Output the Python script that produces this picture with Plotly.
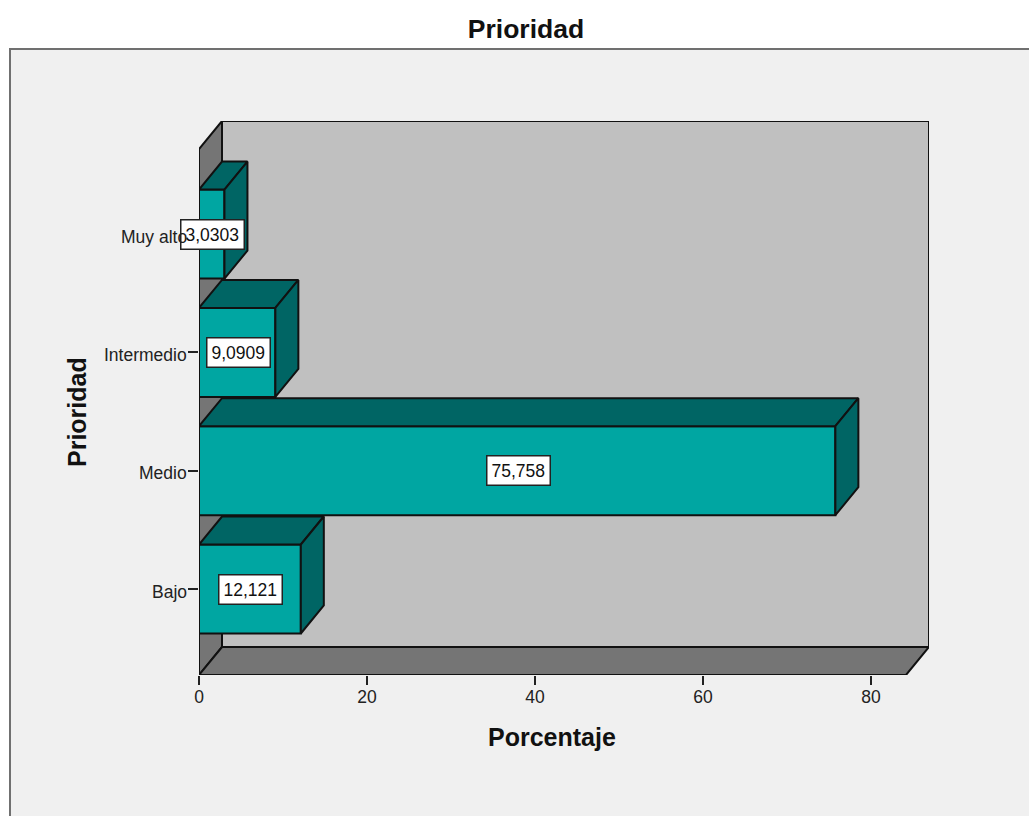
import plotly.graph_objects as go

categories = ["Bajo", "Medio", "Intermedio", "Muy alto"]
values = [12.121, 75.758, 9.0909, 3.0303]
value_labels = ["12,121", "75,758", "9,0909", "3,0303"]
x_ticks = [0, 20, 40, 60, 80]

FONT = "Liberation Sans, Arial, sans-serif"
FRONT, DARK = "#00a6a2", "#006564"
WALL, SIDE = "#c0c0c0", "#757575"
PANEL = "#f0f0f0"
EDGE = "#111111"
LW = 2

# pixel frame of the plot area
L, R, T, B = 199, 929, 121, 675
W, H = 1029, 816
PX_X = 8.4        # pixels per percent
PX_Y = 118.3      # pixels per category step
X_MAX = (R - L) / PX_X
Y_MIN = -(B - 589) / PX_Y
Y_MAX = (589 - T) / PX_Y
DX = 23 / PX_X    # depth of the 3D effect in data units
DY = 28 / PX_Y
BAR = 89 / PX_Y   # bar thickness

positions = list(range(len(categories)))


def path(pts):
    return "M" + " L".join(f"{x},{y}" for x, y in pts) + " Z"


def wall(pts, fill):
    return dict(type="path", xref="x", yref="y", layer="below", path=path(pts),
                fillcolor=fill, line=dict(color=EDGE, width=LW))


fig = go.Figure()

for v, p in zip(values, positions):
    lo, hi = p - BAR / 2, p + BAR / 2
    # top face
    fig.add_trace(go.Scatter(
        x=[0, DX, v + DX, v, 0], y=[hi, hi + DY, hi + DY, hi, hi],
        mode="lines", fill="toself", fillcolor=DARK,
        line=dict(color=EDGE, width=LW), hoverinfo="skip", showlegend=False))
    # side face
    fig.add_trace(go.Scatter(
        x=[v, v + DX, v + DX, v, v], y=[lo, lo + DY, hi + DY, hi, lo],
        mode="lines", fill="toself", fillcolor=DARK,
        line=dict(color=EDGE, width=LW), hoverinfo="skip", showlegend=False))

fig.add_trace(go.Bar(
    x=values, y=positions, orientation="h", width=BAR,
    marker=dict(color=FRONT, line=dict(color=EDGE, width=LW)),
    showlegend=False))

# value boxes first, category labels after: the labels sit on top of the boxes
annotations = [
    dict(x=v / 2, y=p, xref="x", yref="y", text=t, showarrow=False, xshift=1,
         bgcolor="white", bordercolor="#222222", borderwidth=1.5, borderpad=4,
         font=dict(family=FONT, size=17.5, color="#111111"))
    for v, p, t in zip(values, positions, value_labels)
]
annotations += [
    dict(x=0, y=p, xref="x", yref="y", text=c, showarrow=False,
         xanchor="right", yanchor="middle", xshift=-10, yshift=-2.5,
         font=dict(family=FONT, size=17.5, color="#222222"))
    for c, p in zip(categories, positions)
]
annotations += [
    dict(x=(552 - L) / (R - L), y=(B - 737) / (B - T), xref="paper", yref="paper",
         xanchor="center", yanchor="middle",
         text="<b>Porcentaje</b>", showarrow=False,
         font=dict(family=FONT, size=25, color="#111111")),
    dict(x=(77 - L) / (R - L), y=(B - 412) / (B - T), xref="paper", yref="paper",
         xanchor="center", yanchor="middle",
         text="<b>Prioridad</b>", textangle=-90, showarrow=False,
         font=dict(family=FONT, size=25, color="#111111")),
]

shapes = [
    dict(type="rect", xref="paper", yref="paper", layer="below",
         x0=(10 - L) / (R - L), x1=1.5,
         y0=-1, y1=(B - 49) / (B - T),
         fillcolor=PANEL, line=dict(color="#707070", width=2)),
    wall([(DX, Y_MIN + DY), (X_MAX, Y_MIN + DY), (X_MAX, Y_MAX), (DX, Y_MAX)], WALL),
    wall([(0, Y_MIN), (DX, Y_MIN + DY), (DX, Y_MAX), (0, Y_MAX - DY)], SIDE),
    wall([(0, Y_MIN), (X_MAX - DX, Y_MIN), (X_MAX, Y_MIN + DY), (DX, Y_MIN + DY)], SIDE),
]

fig.update_layout(
    width=W, height=H, autosize=False,
    margin=dict(l=L, r=W - R, t=T, b=H - B),
    paper_bgcolor="white", plot_bgcolor="rgba(0,0,0,0)",
    title=dict(text="<b>Prioridad</b>", x=526 / W, xanchor="center",
               y=1 - 29 / H, yanchor="middle",
               font=dict(family=FONT, size=26.5, color="#111111")),
    xaxis=dict(range=[0, X_MAX], tickvals=x_ticks, ticks="outside", ticklen=9,
               tickwidth=2, tickcolor="#222222", showgrid=False, zeroline=False,
               showline=False, ticklabelstandoff=-3,
               tickfont=dict(family=FONT, size=17.5, color="#222222")),
    yaxis=dict(range=[Y_MIN, Y_MAX], tickvals=positions, showticklabels=False,
               ticks="outside", ticklen=10, tickwidth=2, tickcolor="#222222",
               showgrid=False, zeroline=False, showline=False),
    shapes=shapes, annotations=annotations,
)

fig.write_html("out.html", config=dict(displayModeBar=False),
               post_script="document.body.style.margin='0';")
